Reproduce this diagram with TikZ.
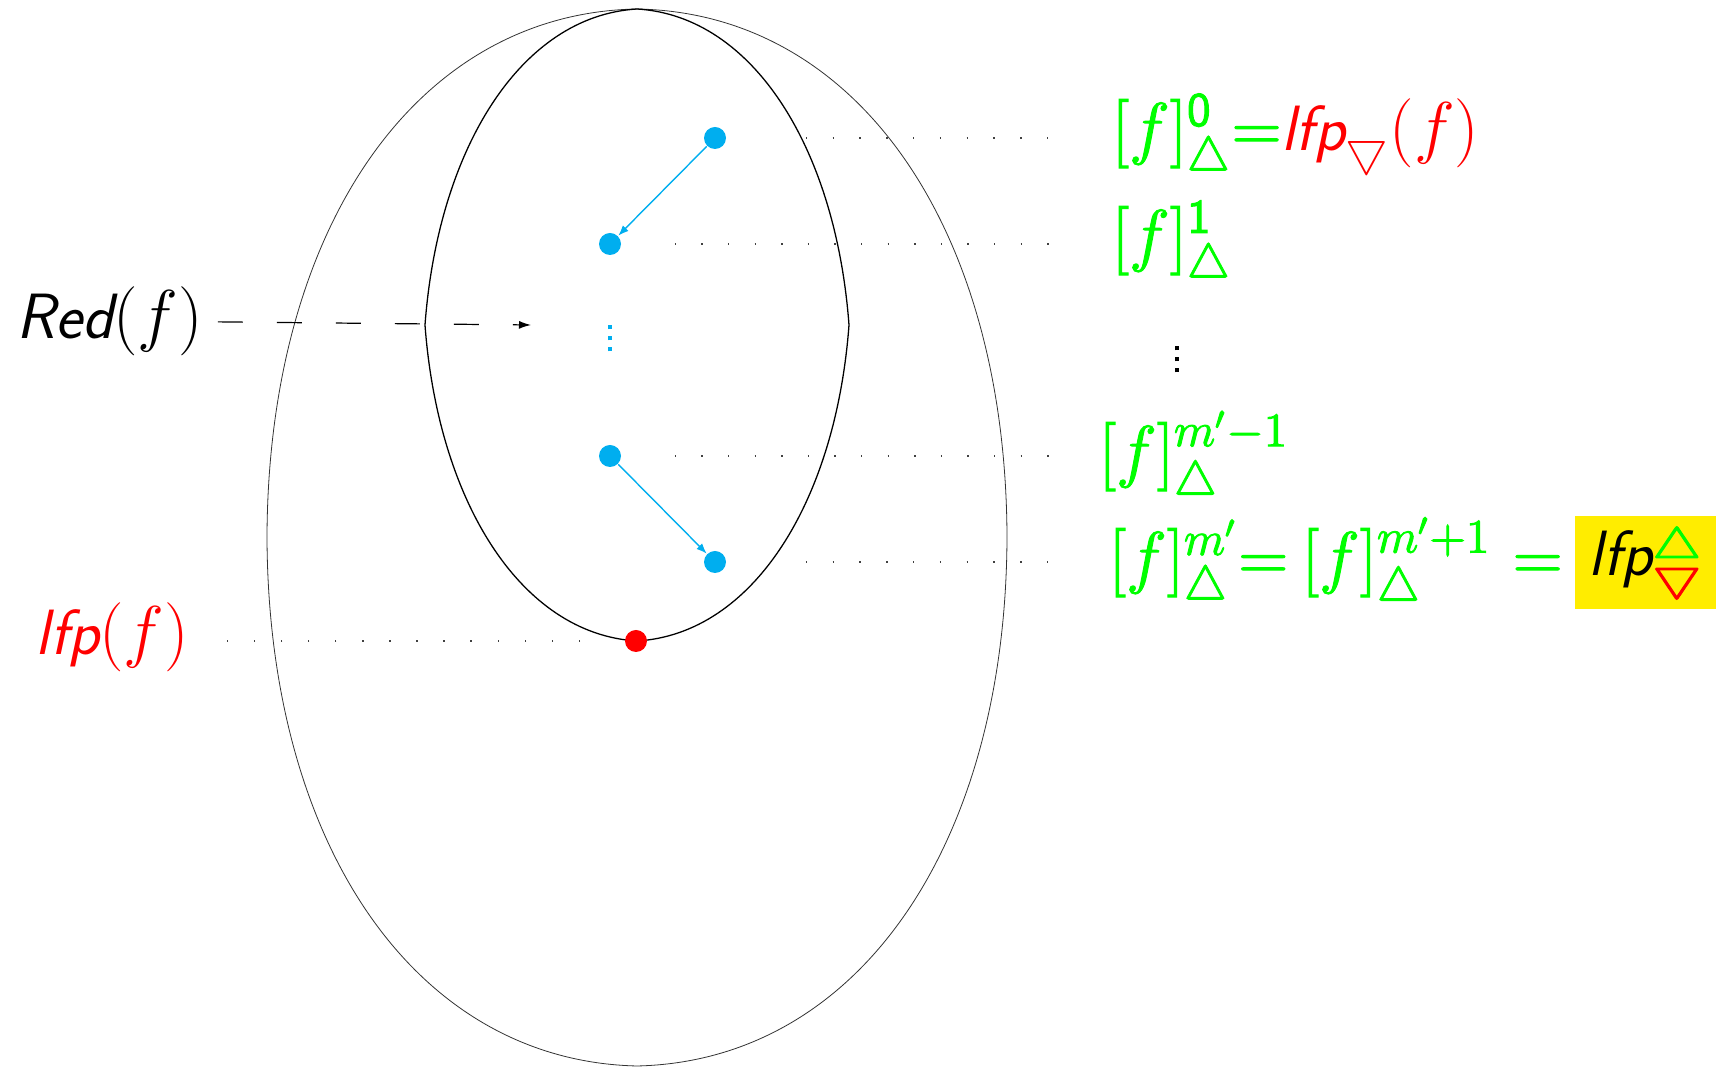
\documentclass[tikz,border=0pt]{standalone}
\usepackage{amsmath}
\usetikzlibrary{arrows.meta}
\definecolor{gr}{RGB}{0,255,0}
\definecolor{rd}{RGB}{255,0,0}
\definecolor{cy}{RGB}{0,174,239}
\definecolor{yl}{RGB}{255,237,0}
\newcommand\sfitA{\fontsize{16}{19}\selectfont\sffamily\slshape}
\newcommand\myvdots{\vbox{\baselineskip2.75pt\lineskiplimit0pt\hbox{\rule{1.2pt}{1.2pt}}\hbox{\rule{1.2pt}{1.2pt}}\hbox{\rule{1.2pt}{1.2pt}}}}
\newcommand\tup{\bigtriangleup}
\newcommand\tdn{\bigtriangledown}
\newcommand\hvon{\special{pdf:literal direct 2 Tr 0.25 w}}
\newcommand\hvoff{\special{pdf:literal direct 0 Tr}}
\newcommand\tristack{\rlap{\raisebox{4.5pt}{\fontsize{10.5}{10.5}\selectfont\textcolor{gr}{\hvon\scalebox{1.25}[1]{$\tup$}\hvoff}}}\raisebox{-3.5pt}{\fontsize{10.5}{10.5}\selectfont\textcolor{rd}{\hvon\scalebox{1.25}[1]{$\tdn$}\hvoff}}}
\begin{document}
\begin{tikzpicture}[x=0.25pt,y=-0.25pt,
  outerline/.style={line width=0.2pt,black!80},
  innerline/.style={line width=0.32pt,black},
  bdot/.style={circle,fill=cy,inner sep=0pt,minimum size=5.5pt},
  rdot/.style={circle,fill=rd,inner sep=0pt,minimum size=5.5pt},
  barrow/.style={cy,line width=0.35pt,-{Latex[length=2.6pt,width=2pt]}},
  dotline/.style={line width=0.4pt,black!75},
  lab/.style={inner sep=0pt,anchor=base west,font=\fontsize{16.4}{20}\selectfont},
  vds/.style={inner sep=0pt}]
\useasboundingbox (0,0) rectangle (1717,1068);
% outer shape
\draw[outerline] (637,9) .. controls (415,13) and (268,230) .. (267,537)
  .. controls (268,844) and (415,1061) .. (637,1066)
  .. controls (859,1061) and (1006,844) .. (1007,537)
  .. controls (1006,230) and (859,13) .. (637,9) -- cycle;
% inner shape
\draw[innerline] (637,9) .. controls (520,16) and (438,150) .. (425,325)
  .. controls (438,500) and (520,634) .. (637,641)
  .. controls (754,634) and (836,500) .. (849,325)
  .. controls (836,150) and (754,16) .. (637,9) -- cycle;
% dots
\node[bdot] (b0) at (715,138) {};
\node[bdot] (b1) at (610,244) {};
\node[bdot] (b2) at (610,456) {};
\node[bdot] (b3) at (715,562) {};
\node[rdot] (rdt) at (636,641) {};
\node[vds,text=cy] (vd1) at (610,338) {\myvdots};
\draw[barrow] (b0) -- (b1);
\draw[barrow] (b2) -- (b3);
% right labels
\node[lab,text=gr] (t0) at (1111,151) {\hvon$[f]^{\mathsf{0}}_{\tup}{=}$\hvoff$\textcolor{rd}{\mbox{\sfitA lfp}_{\tdn}(f)}$};
\node[lab,text=gr] (t1) at (1111,258) {\hvon$[f]^{\mathsf{1}}_{\tup}$\hvoff};
\node[vds,text=black] (vd2) at (1177,359) {\myvdots};
\node[lab,text=gr] (t3) at (1098,474) {\hvon$[f]^{m'-1}_{\tup}$\hvoff};
\node[lab,text=gr] (t4a) at (1108,580) {\hvon$[f]^{m'}_{\tup}{=}$\hvoff};
\node[lab,text=gr] (t4b) at (1301,580) {\hvon$[f]^{m'+1}_{\tup}$\hvoff};
\node[lab,text=gr] (t4c) at (1512,580) {\hvon$=$\hvoff};
\node[fill=yl,inner sep=0pt,minimum width=35.25pt,minimum height=23.25pt,font=\fontsize{16.4}{20}\selectfont] (fix) at (1645,563) {\sfitA lfp\tristack};
% left labels
\node[lab] (red) at (16,339) {{\sfitA Red}$(f)$};
\node[lab,text=rd] (lfpl) at (35,655) {{\sfitA lfp}$(f)$};
\coordinate (redend) at (531,325);
\draw[line width=0.3pt,dash pattern=on 6.25pt off 8.5pt,shorten <=3.5pt,-{Latex[length=3pt,width=2pt]}] (red.east) -- (redend);
% dotted guides
\draw[dotline,dash pattern=on 0.35pt off 6.35pt,shorten <=19.75pt,shorten >=12.25pt] (b0) -- (b0 -| t0.west);
\draw[dotline,dash pattern=on 0.35pt off 6.3pt,shorten <=13.25pt,shorten >=12.25pt] (b1) -- (b1 -| t1.west);
\draw[dotline,dash pattern=on 0.35pt off 6.3pt,shorten <=13.25pt,shorten >=9pt] (b2) -- (b2 -| t3.west);
\draw[dotline,dash pattern=on 0.35pt off 6.35pt,shorten <=19.75pt,shorten >=11.5pt] (b3) -- (b3 -| t4a.west);
\draw[dotline,dash pattern=on 0.35pt off 6.42pt,shorten <=11pt,shorten >=7.25pt] (rdt) -- (lfpl.east |- rdt);
\end{tikzpicture}
\end{document}
